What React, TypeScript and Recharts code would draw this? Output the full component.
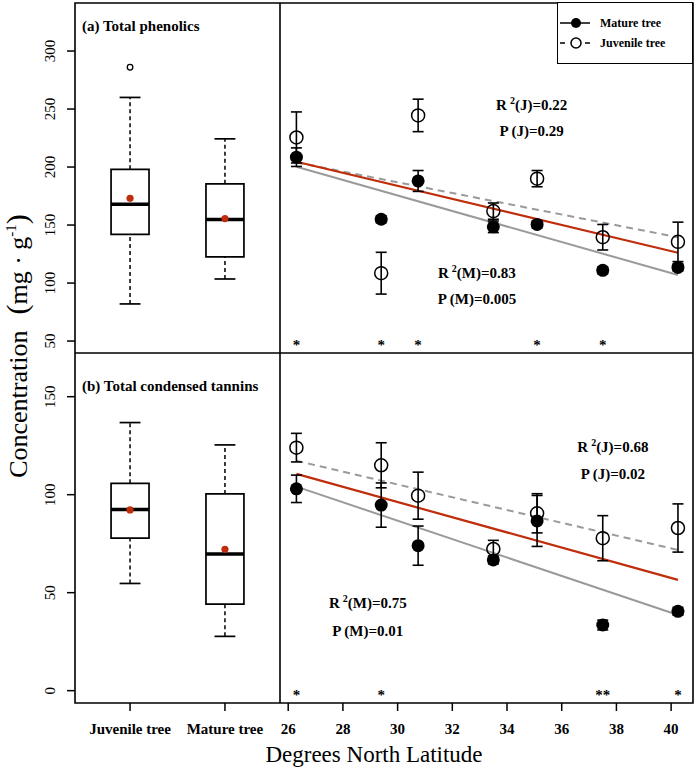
import React from "react";
import {
  ComposedChart,
  XAxis,
  YAxis,
  Scatter,
  ErrorBar,
  ReferenceArea,
  ReferenceLine,
  Legend,
} from "recharts";

const FONT = "'Liberation Serif', 'Times New Roman', serif";
const RED = "#bf2d0b";
const GREY = "#9a9a9a";

// ---- box plots (left) ----
const groups = ["Juvenile tree", "Mature tree"];

const phenolicsLow = [82, 103.5];
const phenolicsQ1 = [142, 122.5];
const phenolicsMedian = [168, 154.7];
const phenolicsQ3 = [198, 185.5];
const phenolicsHigh = [260, 224.3];
const phenolicsMean = [173, 155.6];
const phenolicsOutliers = [[286], []];

const tanninsLow = [54.7, 27.7];
const tanninsQ1 = [77.8, 44.2];
const tanninsMedian = [92.4, 69.7];
const tanninsQ3 = [105.8, 100.4];
const tanninsHigh = [136.8, 125.4];
const tanninsMean = [92.2, 72.1];
const tanninsOutliers: number[][] = [[], []];

// ---- latitude series (right) ----
const seriesNames = ["Mature tree", "Juvenile tree"];
const latitudes = [26.3, 29.4, 30.75, 33.5, 35.1, 37.5, 40.25];
const latTicks = [26, 28, 30, 32, 34, 36, 38, 40];

const phenolicsMature = [208.5, 155, 188, 148.5, 150.5, 111, 113.5];
const phenolicsMatureErr = [8, 3, 9, 5, 3, 3, 3];
const phenolicsJuvenile = [225.5, 108.5, 244.5, 162, 190, 139.5, 135.5];
const phenolicsJuvenileErr = [22, 18, 14, 7, 7, 11, 17];

const tanninsMature = [103, 94.7, 74, 66.7, 86.6, 33.5, 40.5];
const tanninsMatureErr = [7, 11.3, 10, 2, 13, 2.5, 2];
const tanninsJuvenile = [124, 115, 99.5, 72.3, 90.5, 77.8, 83];
const tanninsJuvenileErr = [7.3, 11.5, 12, 4.4, 10, 11.5, 12.3];

const fitLat = [26.3, 40.25];
const phenolicsFitAll = [204.6, 126.1];
const phenolicsFitMature = [200.3, 106.9];
const phenolicsFitJuvenile = [204.0, 139.4];
const tanninsFitAll = [110.6, 56.5];
const tanninsFitMature = [104.1, 38.6];
const tanninsFitJuvenile = [117.3, 71.8];

const phenolicsStarLat = [26.3, 29.4, 30.75, 35.1, 37.5];
const phenolicsStarMark = ["*", "*", "*", "*", "*"];
const tanninsStarLat = [26.3, 29.4, 37.5, 40.25];
const tanninsStarMark = ["*", "*", "**", "*"];

const phenolicsNotes = ["R2(J)=0.22", "P (J)=0.29", "R2(M)=0.83", "P (M)=0.005"];
const phenolicsNoteLat = [34.9, 34.9, 32.9, 32.9];
const phenolicsNoteVal = [253.5, 231, 109, 86.2];
const tanninsNotes = ["R2(J)=0.68", "P (J)=0.02", "R2(M)=0.75", "P (M)=0.01"];
const tanninsNoteLat = [37.87, 37.87, 28.91, 28.91];
const tanninsNoteVal = [124.5, 110.6, 44.6, 30.6];

const phenolicsDomain: [number, number] = [39.7, 341.4];
const tanninsDomain: [number, number] = [-6.3, 172.3];
const latDomain: [number, number] = [25.7, 40.8];
const groupDomain: [number, number] = [0.42, 2.58];

function YTick(props: any) {
  const { x, y, payload } = props;
  const bx = x - 10;
  return (
    <text x={bx} y={y} transform={`rotate(-90 ${bx} ${y})`} textAnchor="middle" fontFamily={FONT} fontSize={15} fill="#000">
      {payload.value}
    </text>
  );
}

const xTickStyle = { fill: "#000", fontFamily: FONT, fontSize: 15, fontWeight: "bold" };

function Frame({ xd, yd }: { xd: [number, number]; yd: [number, number] }) {
  return null;
}

function BoxPanel(props: any) {
  const { top, height, showX, yDomain, yTicks, low, q1, median, q3, high, mean, outliers } = props;
  const means = mean.map((v: number, i: number) => ({ x: i + 1, y: v }));
  const outs = outliers.flatMap((list: number[], i: number) => list.map((v) => ({ x: i + 1, y: v })));
  const parts: any[] = [];
  groups.forEach((g, i) => {
    const c = i + 1;
    parts.push(
      <ReferenceLine key={`wu${i}`} segment={[{ x: c, y: q3[i] }, { x: c, y: high[i] }]} stroke="#000" strokeWidth={1.5} strokeDasharray="4 3" />,
      <ReferenceLine key={`wl${i}`} segment={[{ x: c, y: low[i] }, { x: c, y: q1[i] }]} stroke="#000" strokeWidth={1.5} strokeDasharray="4 3" />,
      <ReferenceLine key={`cu${i}`} segment={[{ x: c - 0.11, y: high[i] }, { x: c + 0.11, y: high[i] }]} stroke="#000" strokeWidth={1.7} />,
      <ReferenceLine key={`cl${i}`} segment={[{ x: c - 0.11, y: low[i] }, { x: c + 0.11, y: low[i] }]} stroke="#000" strokeWidth={1.7} />,
      <ReferenceArea key={`b${i}`} x1={c - 0.2} x2={c + 0.2} y1={q1[i]} y2={q3[i]} fill="#fff" fillOpacity={1} stroke="#000" strokeWidth={1.7} />,
      <ReferenceLine key={`m${i}`} segment={[{ x: c - 0.2, y: median[i] }, { x: c + 0.2, y: median[i] }]} stroke="#000" strokeWidth={3.5} />
    );
  });
  return (
    <div style={{ position: "absolute", left: 0, top }}>
      <ComposedChart width={280} height={height} margin={{ top: showX ? 0 : 3, right: 0, bottom: 0, left: 0 }}>
        <XAxis
          type="number"
          dataKey="x"
          domain={groupDomain}
          ticks={[1, 2]}
          tickFormatter={(v: number) => groups[v - 1]}
          hide={!showX}
          height={40}
          axisLine={false}
          tickSize={8}
          tickMargin={12}
          tickLine={{ stroke: "#000", strokeWidth: 1.5 }}
          tick={xTickStyle}
          allowDataOverflow
        />
        <YAxis
          type="number"
          dataKey="y"
          domain={yDomain}
          ticks={yTicks}
          width={75}
          axisLine={false}
          tickSize={8}
          tickLine={{ stroke: "#000", strokeWidth: 1.5 }}
          tick={<YTick />}
          allowDataOverflow
        />
        <ReferenceArea x1={groupDomain[0]} x2={groupDomain[1]} y1={yDomain[0]} y2={yDomain[1]} fill="none" stroke="#000" strokeWidth={1.6} />
        {parts}
        <Scatter data={outs} isAnimationActive={false} shape={(p: any) => <circle cx={p.cx} cy={p.cy} r={2.8} fill="none" stroke="#000" strokeWidth={1.3} />} />
        <Scatter data={means} isAnimationActive={false} shape={(p: any) => <circle cx={p.cx} cy={p.cy} r={3.6} fill={RED} />} />
      </ComposedChart>
    </div>
  );
}

function NoteShape(p: any) {
  const t: string = p.payload.text;
  const common = { fontFamily: FONT, fontSize: 15, fontWeight: "bold" as const, fill: "#000", textAnchor: "middle" as const };
  if (t.startsWith("R2")) {
    return (
      <text x={p.cx} y={p.cy} dy={5} {...common}>
        R
        <tspan dx={3} dy={-6} fontSize={10}>2</tspan>
        <tspan dy={6}>{t.slice(2)}</tspan>
      </text>
    );
  }
  return (
    <text x={p.cx} y={p.cy} dy={5} {...common}>
      {t}
    </text>
  );
}

function StarShape(p: any) {
  return (
    <text x={p.cx} y={p.cy} dy={9} textAnchor="middle" fontFamily={FONT} fontSize={15} fontWeight="bold" fill="#000">
      {p.payload.mark}
    </text>
  );
}

function LegendBox() {
  return (
    <div style={{ width: 136, height: 62, border: "1.6px solid #000", background: "#fff", boxSizing: "border-box" }}>
      <svg width={133} height={59} style={{ display: "block" }}>
        <line x1={2} x2={32} y1={20} y2={20} stroke="#000" strokeWidth={1.5} />
        <circle cx={18} cy={20} r={5} fill="#000" />
        <text x={42} y={24} fontFamily={FONT} fontSize={12} fontWeight="bold">{seriesNames[0]}</text>
        <line x1={2} x2={32} y1={40} y2={40} stroke="#000" strokeWidth={1.5} strokeDasharray="5 20" />
        <circle cx={18} cy={40} r={5} fill="#fff" stroke="#000" strokeWidth={1.5} />
        <text x={42} y={44} fontFamily={FONT} fontSize={12} fontWeight="bold">{seriesNames[1]}</text>
      </svg>
    </div>
  );
}

function LatPanel(props: any) {
  const { top, height, showX, yDomain, mature, matureErr, juvenile, juvenileErr, fitAll, fitMature, fitJuvenile, starLat, starMark, starY, notes, noteLat, noteVal, legend } = props;
  const mData = latitudes.map((x, i) => ({ x, y: mature[i], err: matureErr[i] }));
  const jData = latitudes.map((x, i) => ({ x, y: juvenile[i], err: juvenileErr[i] }));
  const stars = starLat.map((x: number, i: number) => ({ x, y: starY, mark: starMark[i] }));
  const noteData = notes.map((text: string, i: number) => ({ x: noteLat[i], y: noteVal[i], text }));
  const seg = (v: number[]) => [{ x: fitLat[0], y: v[0] }, { x: fitLat[1], y: v[1] }];
  return (
    <div style={{ position: "absolute", left: 280, top }}>
      <ComposedChart width={417} height={height} margin={{ top: showX ? 0 : 3, right: 4, bottom: 0, left: 0 }}>
        <XAxis
          type="number"
          dataKey="x"
          domain={latDomain}
          ticks={latTicks}
          hide={!showX}
          height={40}
          axisLine={false}
          tickSize={8}
          tickMargin={12}
          tickLine={{ stroke: "#000", strokeWidth: 1.5 }}
          tick={xTickStyle}
          allowDataOverflow
        />
        <YAxis type="number" dataKey="y" domain={yDomain} hide allowDataOverflow />
        <ReferenceArea x1={latDomain[0]} x2={latDomain[1]} y1={yDomain[0]} y2={yDomain[1]} fill="none" stroke="#000" strokeWidth={1.6} />
        <ReferenceLine segment={seg(fitMature)} stroke={GREY} strokeWidth={2} />
        <ReferenceLine segment={seg(fitJuvenile)} stroke={GREY} strokeWidth={2} strokeDasharray="7 5" />
        <ReferenceLine segment={seg(fitAll)} stroke={RED} strokeWidth={2.2} />
        <Scatter data={mData} isAnimationActive={false} shape={(p: any) => <circle cx={p.cx} cy={p.cy} r={6.5} fill="#000" />}>
          <ErrorBar dataKey="err" direction="y" width={5.5} stroke="#000" strokeWidth={1.6} isAnimationActive={false} />
        </Scatter>
        <Scatter data={jData} isAnimationActive={false} shape={(p: any) => <circle cx={p.cx} cy={p.cy} r={6.5} fill="none" stroke="#000" strokeWidth={1.5} />}>
          <ErrorBar dataKey="err" direction="y" width={5.5} stroke="#000" strokeWidth={1.6} isAnimationActive={false} />
        </Scatter>
        <Scatter data={stars} isAnimationActive={false} shape={StarShape} />
        <Scatter data={noteData} isAnimationActive={false} shape={NoteShape} />
        {legend && (
          <Legend
            layout="vertical"
            align="center"
            verticalAlign="middle"
            wrapperStyle={{ left: 277, top: 2, width: 136, height: 62 }}
            content={() => <LegendBox />}
          />
        )}
      </ComposedChart>
    </div>
  );
}

export default function App() {
  return (
    <div style={{ position: "absolute", left: 0, top: 0, width: 697, height: 769, background: "#fff" }}>
      <BoxPanel
        top={0}
        height={353}
        showX={false}
        yDomain={phenolicsDomain}
        yTicks={[50, 100, 150, 200, 250, 300]}
        low={phenolicsLow}
        q1={phenolicsQ1}
        median={phenolicsMedian}
        q3={phenolicsQ3}
        high={phenolicsHigh}
        mean={phenolicsMean}
        outliers={phenolicsOutliers}
      />
      <BoxPanel
        top={353}
        height={390}
        showX={true}
        yDomain={tanninsDomain}
        yTicks={[0, 50, 100, 150]}
        low={tanninsLow}
        q1={tanninsQ1}
        median={tanninsMedian}
        q3={tanninsQ3}
        high={tanninsHigh}
        mean={tanninsMean}
        outliers={tanninsOutliers}
      />
      <LatPanel
        top={0}
        height={353}
        showX={false}
        yDomain={phenolicsDomain}
        mature={phenolicsMature}
        matureErr={phenolicsMatureErr}
        juvenile={phenolicsJuvenile}
        juvenileErr={phenolicsJuvenileErr}
        fitAll={phenolicsFitAll}
        fitMature={phenolicsFitMature}
        fitJuvenile={phenolicsFitJuvenile}
        starLat={phenolicsStarLat}
        starMark={phenolicsStarMark}
        starY={50}
        notes={phenolicsNotes}
        noteLat={phenolicsNoteLat}
        noteVal={phenolicsNoteVal}
        legend={true}
      />
      <LatPanel
        top={353}
        height={390}
        showX={true}
        yDomain={tanninsDomain}
        mature={tanninsMature}
        matureErr={tanninsMatureErr}
        juvenile={tanninsJuvenile}
        juvenileErr={tanninsJuvenileErr}
        fitAll={tanninsFitAll}
        fitMature={tanninsFitMature}
        fitJuvenile={tanninsFitJuvenile}
        starLat={tanninsStarLat}
        starMark={tanninsStarMark}
        starY={0}
        notes={tanninsNotes}
        noteLat={tanninsNoteLat}
        noteVal={tanninsNoteVal}
        legend={false}
      />
      <svg width={697} height={769} style={{ position: "absolute", left: 0, top: 0, pointerEvents: "none" }}>
        <text x={82} y={31} fontFamily={FONT} fontSize={15} fontWeight="bold">(a) Total phenolics</text>
        <text x={82} y={391} fontFamily={FONT} fontSize={15} fontWeight="bold">(b) Total condensed tannins</text>
        <text x={374} y={762} textAnchor="middle" fontFamily={FONT} fontSize={23}>Degrees North Latitude</text>
        <text x={27} y={346} transform="rotate(-90 27 346)" textAnchor="middle" fontFamily={FONT} fontSize={26}>
          Concentration
          <tspan dx={16} fontSize={30}>(</tspan>
          <tspan fontSize={26}>mg · g</tspan>
          <tspan dy={-11} fontSize={15}>-1</tspan>
          <tspan dy={11} fontSize={30}>)</tspan>
        </text>
      </svg>
    </div>
  );
}
